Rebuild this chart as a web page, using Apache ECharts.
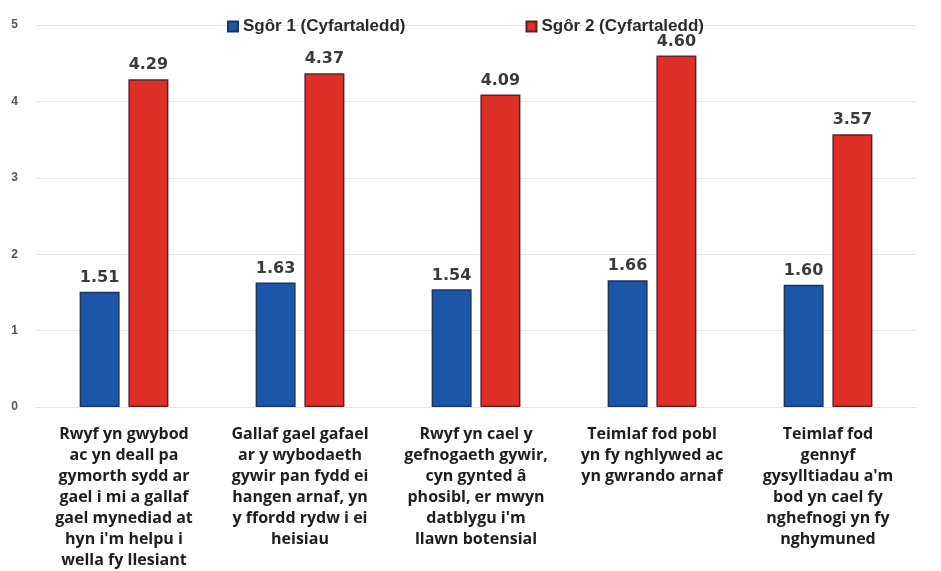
<!DOCTYPE html>
<html>
<head>
<meta charset="utf-8">
<script src="https://cdn.jsdelivr.net/npm/echarts@6/dist/echarts.min.js"></script>
<style>
  html, body { margin: 0; padding: 0; background: #ffffff; }
  #chart { width: 941px; height: 571px; }
</style>
</head>
<body>
<div id="chart"></div>
<script>
// Category labels (line breaks as in the original)
const categories = [
    'Rwyf yn gwybod\nac yn deall pa\ngymorth sydd ar\ngael i mi a gallaf\ngael mynediad at\nhyn i\'m helpu i\nwella fy llesiant',
    'Gallaf gael gafael\nar y wybodaeth\ngywir pan fydd ei\nhangen arnaf, yn\ny ffordd rydw i ei\nheisiau',
    'Rwyf yn cael y\ngefnogaeth gywir,\ncyn gynted â\nphosibl, er mwyn\ndatblygu i\'m\nllawn botensial',
    'Teimlaf fod pobl\nyn fy nghlywed ac\nyn gwrando arnaf',
    'Teimlaf fod\ngennyf\ngysylltiadau a\'m\nbod yn cael fy\nnghefnogi yn fy\nnghymuned'
];
const seriesNames = ['Sgôr 1 (Cyfartaledd)', 'Sgôr 2 (Cyfartaledd)'];
const score1 = [1.51, 1.63, 1.54, 1.66, 1.60];
const score2 = [4.29, 4.37, 4.09, 4.60, 3.57];

const chart = echarts.init(document.getElementById('chart'));

const labelStyle = {
    show: true,
    position: 'top',
    distance: 6,
    formatter: p => p.value.toFixed(2),
    color: '#3a3a3a',
    fontWeight: 'bold',
    fontSize: 16,
    fontFamily: 'DejaVu Sans'
};

const option = {
    animation: false,
    backgroundColor: '#ffffff',
    legend: {
        left: 222,
        top: 13,
        itemWidth: 10,
        itemHeight: 10,
        itemGap: 120,
        icon: 'rect',
        textStyle: {
            color: '#2a2a2a',
            fontWeight: 'bold',
            fontSize: 17,
            fontFamily: 'Liberation Sans'
        },
        data: seriesNames
    },
    grid: {
        left: 36,
        right: 25,
        top: 25,
        bottom: 163
    },
    xAxis: {
        type: 'category',
        data: categories,
        axisLine: { show: false },
        axisTick: { show: false },
        axisLabel: {
            interval: 0,
            margin: 17,
            color: '#1e1e1e',
            fontWeight: 'bold',
            fontSize: 16,
            lineHeight: 21,
            fontFamily: 'Open Sans'
        }
    },
    yAxis: {
        type: 'value',
        min: 0,
        max: 5,
        interval: 1,
        axisLine: { show: false },
        axisTick: { show: false },
        splitLine: { lineStyle: { color: '#e4e4e4', width: 1 } },
        axisLabel: {
            margin: 18,
            color: '#555555',
            fontSize: 12,
            fontWeight: 'bold',
            fontFamily: 'Liberation Sans'
        }
    },
    series: [
        {
            name: seriesNames[0],
            type: 'bar',
            data: score1,
            barWidth: 40,
            barGap: '22%',
            itemStyle: { color: '#1d56a9', borderColor: '#1b3563', borderWidth: 1.5 },
            label: labelStyle
        },
        {
            name: seriesNames[1],
            type: 'bar',
            data: score2,
            barWidth: 40,
            itemStyle: { color: '#dc3029', borderColor: '#5e2222', borderWidth: 1.5 },
            label: labelStyle
        }
    ]
};

chart.setOption(option);
</script>
</body>
</html>
